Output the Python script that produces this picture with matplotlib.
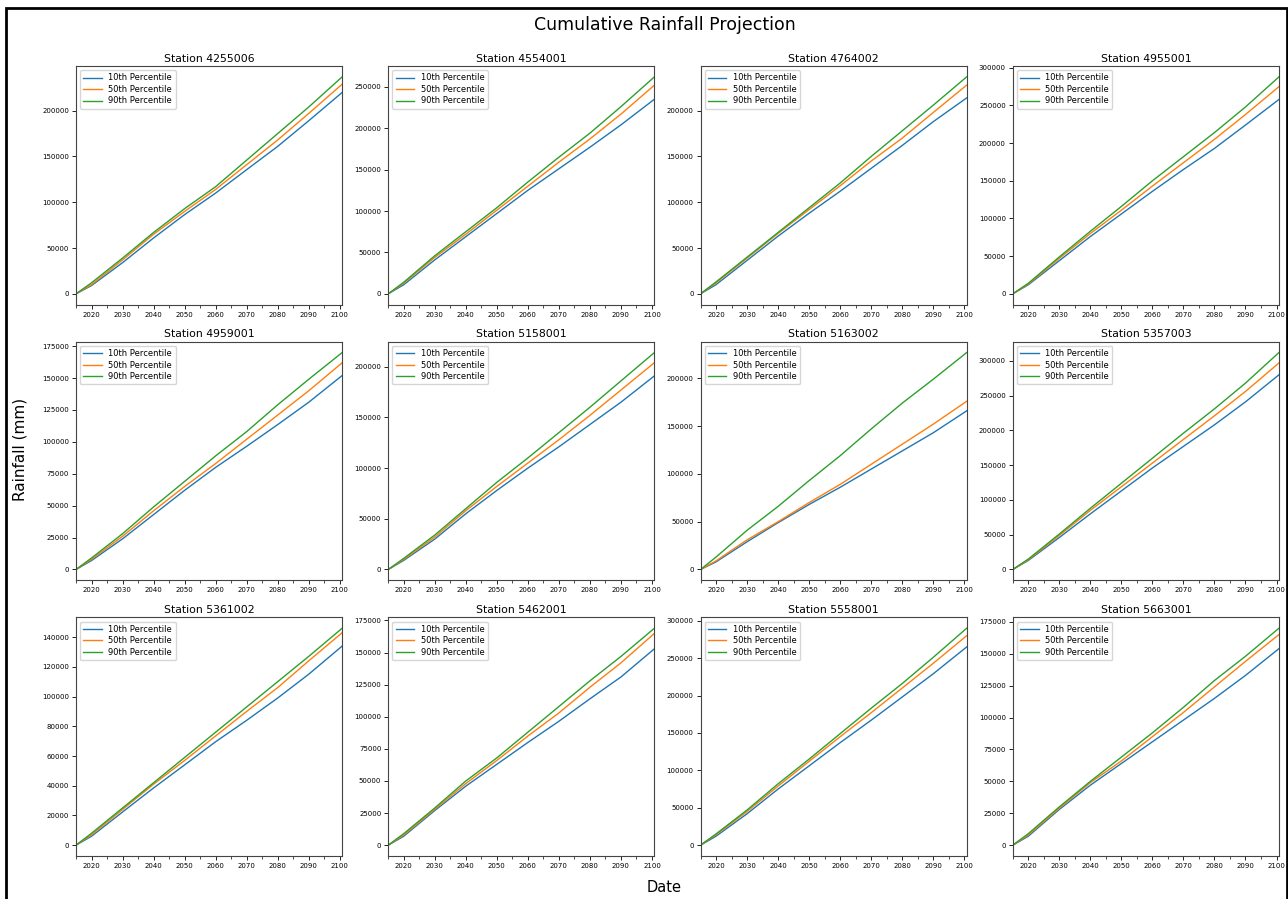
import matplotlib
matplotlib.use("Agg")
import matplotlib.pyplot as plt
from matplotlib.patches import Rectangle
from matplotlib.ticker import MultipleLocator, ScalarFormatter

# Station ids, in plotting order (3 rows x 4 cols)
stations = ['4255006', '4554001', '4764002', '4955001',
            '4959001', '5158001', '5163002', '5357003',
            '5361002', '5462001', '5558001', '5663001']

# sample years (last point = end of series, late 2100)
years = [2015, 2020, 2030, 2040, 2050, 2060, 2070, 2080, 2090, 2100.8]

# cumulative rainfall (mm)
p10 = [
    [0, 9000, 34000, 61000, 86500, 110000, 135600, 161000, 189000, 220000],
    [0, 11000, 41000, 69000, 97000, 125000, 151000, 177000, 204000, 235000],
    [0, 10000, 36500, 63000, 88000, 112000, 137000, 162000, 188000, 214000],
    [0, 12000, 44000, 76000, 106000, 136000, 165000, 193000, 224000, 258000],
    [0, 7000, 24000, 43000, 62000, 80000, 96500, 113500, 131000, 152000],
    [0, 9000, 30000, 55000, 78000, 100000, 121000, 143000, 165000, 191000],
    [0, 8000, 29000, 49000, 68000, 86000, 105000, 124000, 143000, 166000],
    [0, 13000, 46000, 80000, 113000, 146000, 177000, 208000, 241000, 280000],
    [0, 6000, 22300, 38500, 54000, 69600, 84000, 99000, 115000, 134000],
    [0, 7000, 27000, 46000, 63000, 80000, 96500, 114000, 131000, 153000],
    [0, 12000, 42000, 75000, 106000, 137000, 167000, 198000, 229000, 265000],
    [0, 7000, 28000, 47000, 64000, 81000, 98000, 115000, 133000, 154000],
]
p50 = [
    [0, 10000, 37000, 65000, 90000, 114000, 141000, 168000, 197000, 229000],
    [0, 13000, 44000, 72000, 101000, 130000, 159000, 187000, 217000, 252000],
    [0, 12000, 39000, 66000, 92000, 118000, 145000, 170000, 198000, 228000],
    [0, 13000, 47000, 80000, 111000, 143000, 174000, 205000, 238000, 275000],
    [0, 8000, 26000, 46000, 65000, 83000, 102000, 121000, 140000, 162000],
    [0, 10000, 32000, 58000, 82000, 105000, 128000, 152000, 177000, 204000],
    [0, 9000, 31000, 50000, 70000, 89000, 110000, 131000, 152000, 176000],
    [0, 14000, 49000, 85000, 119000, 153000, 187000, 221000, 256000, 297000],
    [0, 7000, 24000, 41000, 57000, 73500, 90000, 106000, 124000, 143000],
    [0, 8000, 28000, 48000, 66000, 85000, 103000, 123000, 142000, 165000],
    [0, 14000, 45000, 79000, 112000, 145000, 177000, 210000, 243000, 280000],
    [0, 8000, 29000, 49000, 66000, 85000, 104000, 124000, 144000, 165000],
]
p90 = [
    [0, 12000, 39000, 67000, 93000, 117000, 146000, 175000, 204000, 237000],
    [0, 14000, 46000, 75000, 104000, 135000, 165000, 194000, 226000, 262000],
    [0, 13000, 40000, 67000, 94000, 121000, 150000, 178000, 206000, 237000],
    [0, 14000, 49000, 83000, 116000, 150000, 182000, 214000, 248000, 288000],
    [0, 9000, 28000, 49000, 69000, 89000, 108000, 129000, 149000, 170000],
    [0, 11000, 34000, 60000, 86000, 110000, 135000, 160000, 186000, 214000],
    [0, 13000, 41000, 66000, 93000, 119000, 147000, 174000, 199000, 227000],
    [0, 15000, 51000, 88000, 124000, 160000, 196000, 231000, 268000, 312000],
    [0, 8000, 25000, 42000, 59000, 76000, 93000, 110000, 127000, 146000],
    [0, 9000, 29000, 50000, 68000, 88000, 108000, 128000, 147000, 169000],
    [0, 15000, 47000, 82000, 115000, 149000, 183000, 216000, 251000, 290000],
    [0, 9000, 30000, 50000, 69000, 88000, 108000, 129000, 148000, 170000],
]

labels = ['10th Percentile', '50th Percentile', '90th Percentile']
colors = ['tab:blue', 'tab:orange', 'tab:green']

fig, axes = plt.subplots(3, 4, figsize=(12.88, 8.99), dpi=100)
fig.subplots_adjust(left=0.059, right=0.993, top=0.9266, bottom=0.0478,
                    wspace=0.173, hspace=0.155)

for i, ax in enumerate(axes.flat):
    for series, lab, col in zip([p10[i], p50[i], p90[i]], labels, colors):
        ax.plot(years, series, color=col, lw=1.0, label=lab)
    ax.set_title(f"Station {stations[i]}", fontsize=7.8, pad=3)
    ax.set_xlim(years[0], years[-1])
    ax.xaxis.set_major_locator(MultipleLocator(10))
    ax.xaxis.set_minor_locator(MultipleLocator(5))
    fmt = ScalarFormatter(useOffset=False)
    fmt.set_scientific(False)
    ax.yaxis.set_major_formatter(fmt)
    ax.tick_params(labelsize=5, length=3, width=0.6, pad=2)
    ax.tick_params(which='minor', length=2, width=0.5)
    for sp in ax.spines.values():
        sp.set_linewidth(0.8)
        sp.set_color('#444444')
    ax.legend(loc='upper left', fontsize=6, handlelength=2.2,
              borderpad=0.4, labelspacing=0.3)

fig.suptitle("Cumulative Rainfall Projection", fontsize=12.5, x=0.516, y=0.982)
fig.text(0.516, 0.004, "Date", fontsize=10.5, ha='center', va='bottom')
fig.text(0.0155, 0.5, "Rainfall (mm)", fontsize=11, rotation=90,
         ha='center', va='center')

# black frame around the figure
fig.add_artist(Rectangle((0.005, -0.02), 0.994, 1.011,
                         transform=fig.transFigure, fill=False,
                         edgecolor='black', lw=2))

fig.savefig("out.png", dpi=100)
